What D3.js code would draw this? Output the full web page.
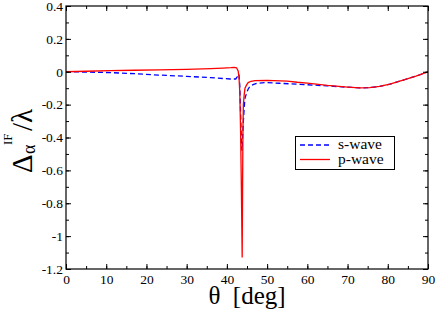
<!DOCTYPE html>
<html><head><meta charset="utf-8">
<script src="https://cdn.jsdelivr.net/npm/d3@7"></script>
<style>body{margin:0;background:#fff}svg{display:block}</style>
</head><body>
<svg id="c" width="436" height="310"></svg>
<script>
// p-wave (red, solid)
const pTheta = [0, 5, 11, 17, 23, 30, 36, 39, 41, 41.8, 42.4, 42.8, 43.0, 43.2, 43.4, 43.6, 43.8, 43.9, 44.0, 44.1, 44.3, 44.5, 44.9, 45.3, 46, 47, 50, 55, 57.5, 60, 65, 70, 73, 75.5, 78, 80.5, 84, 87, 90];
const pVal   = [0, 0.003, 0.007, 0.009, 0.011, 0.015, 0.019, 0.022, 0.025, 0.027, 0.024, 0.005, -0.03, -0.12, -0.35, -0.7, -1.13, -0.7, -0.35, -0.2, -0.14, -0.1, -0.08, -0.066, -0.058, -0.054, -0.052, -0.057, -0.064, -0.069, -0.083, -0.093, -0.098, -0.097, -0.089, -0.076, -0.05, -0.027, 0];
// s-wave (blue, dashed)
const sTheta = [0, 5, 11, 17, 23, 30, 36, 40.8, 42.2, 42.6, 43.0, 43.2, 43.4, 43.6, 43.75, 43.9, 44.1, 44.3, 44.5, 44.9, 45.3, 45.7, 46.5, 47.4, 49.5, 53, 57.5, 60, 65, 70, 73, 75.5, 78, 80.5, 84, 87, 90];
const sVal   = [0, -0.002, -0.005, -0.012, -0.02, -0.028, -0.036, -0.044, -0.044, -0.03, -0.015, -0.08, -0.25, -0.42, -0.48, -0.4, -0.3, -0.22, -0.16, -0.13, -0.105, -0.09, -0.078, -0.07, -0.066, -0.07, -0.076, -0.079, -0.086, -0.094, -0.098, -0.097, -0.089, -0.076, -0.05, -0.027, 0];
const xMajor = [0, 10, 20, 30, 40, 50, 60, 70, 80, 90];
const yMajor = [0.4, 0.2, 0, -0.2, -0.4, -0.6, -0.8, -1, -1.2];
const legendLabels = ["s-wave", "p-wave"];

const FONT = '"Liberation Serif"';
const svg = d3.select("#c");
const L = 66, R = 428, T = 6, B = 269;
const x = d3.scaleLinear().domain([0, 90]).range([L, R]);
const y = d3.scaleLinear().domain([-1.2, 0.4]).range([B, T]);

svg.append("clipPath").attr("id", "clip").append("rect")
  .attr("x", L).attr("y", T).attr("width", R - L).attr("height", B - T);

const line = d3.line().x(d => x(d[0])).y(d => y(d[1]));
const sData = sTheta.map((t, i) => [t, sVal[i]]);
const pData = pTheta.map((t, i) => [t, pVal[i]]);
const g = svg.append("g").attr("clip-path", "url(#clip)");
g.append("path").datum(sData).attr("d", line).attr("fill", "none")
  .attr("stroke", "#0000ff").attr("stroke-width", 1.3).attr("stroke-dasharray", "5,3");
g.append("path").datum(pData).attr("d", line).attr("fill", "none")
  .attr("stroke", "#ff0000").attr("stroke-width", 1.3);

const xMinor = d3.range(0, 91, 5);
const yMinor = d3.range(-12, 5, 1).map(v => v / 10);
const fmt = v => (Math.abs(v) < 1e-9 ? "0" : String(+v.toFixed(1)));
const axB = d3.axisBottom(x).tickValues(xMajor).tickSize(-5).tickPadding(5).tickFormat(d3.format("d"));
const axBm = d3.axisBottom(x).tickValues(xMinor).tickSize(-3).tickFormat("");
const axT = d3.axisTop(x).tickValues(xMajor).tickSize(-5).tickFormat("");
const axTm = d3.axisTop(x).tickValues(xMinor).tickSize(-3).tickFormat("");
const axL = d3.axisLeft(y).tickValues(yMajor).tickSize(-5).tickPadding(3).tickFormat(fmt);
const axLm = d3.axisLeft(y).tickValues(yMinor).tickSize(-3).tickFormat("");
const axR = d3.axisRight(y).tickValues(yMajor).tickSize(-5).tickFormat("");
const axRm = d3.axisRight(y).tickValues(yMinor).tickSize(-3).tickFormat("");
function put(ax, tr) {
  const a = svg.append("g").attr("transform", tr).call(ax).attr("font-family", null);
  a.select(".domain").remove();
  a.selectAll("line").attr("stroke", "#000").attr("stroke-width", 1);
  a.selectAll("text").style("font-family", FONT).attr("font-size", 13.5).attr("fill", "#000");
  return a;
}
put(axB, `translate(0,${B})`); put(axBm, `translate(0,${B})`);
put(axT, `translate(0,${T})`); put(axTm, `translate(0,${T})`);
put(axL, `translate(${L},0)`); put(axLm, `translate(${L},0)`);
put(axR, `translate(${R},0)`); put(axRm, `translate(${R},0)`);
svg.append("rect").attr("x", L).attr("y", T).attr("width", R - L).attr("height", B - T)
  .attr("fill", "none").attr("stroke", "#000").attr("stroke-width", 1.2);

// x title
svg.append("text").attr("x", (L + R) / 2).attr("y", 304).attr("text-anchor", "middle")
  .style("font-family", FONT).attr("font-size", 25).text("\u03B8\u00A0 [deg]");

// y title
const yt = svg.append("g").attr("transform", "translate(32,173) rotate(-90)").attr("fill", "#000");
yt.append("text").attr("x", 0).attr("y", 0).style("font-family", FONT).attr("font-size", 29).text("\u0394");
yt.append("text").attr("x", 19).attr("y", 3).style("font-family", FONT).attr("font-size", 18).text("\u03B1");
yt.append("text").attr("x", 28).attr("y", -20).style("font-family", FONT).attr("font-size", 13).text("IF");
yt.append("text").attr("x", 42).attr("y", 0).style("font-family", FONT).attr("font-size", 29).text("/\u03BB");

// legend
const lg = svg.append("g");
lg.append("rect").attr("x", 295.5).attr("y", 136.5).attr("width", 99).attr("height", 33)
  .attr("fill", "#fff").attr("stroke", "#000").attr("stroke-width", 1);
const lstyles = [{c: "#0000ff", d: "5,3", yy: 145}, {c: "#ff0000", d: null, yy: 159.5}];
legendLabels.forEach((lab, i) => {
  const s = lstyles[i];
  lg.append("line").attr("x1", 300).attr("x2", 330).attr("y1", s.yy).attr("y2", s.yy)
    .attr("stroke", s.c).attr("stroke-width", 1.3).attr("stroke-dasharray", s.d);
  lg.append("text").attr("x", 338).attr("y", s.yy + 4).style("font-family", FONT)
    .attr("font-size", 15.5).text(lab);
});
</script>
</body></html>
